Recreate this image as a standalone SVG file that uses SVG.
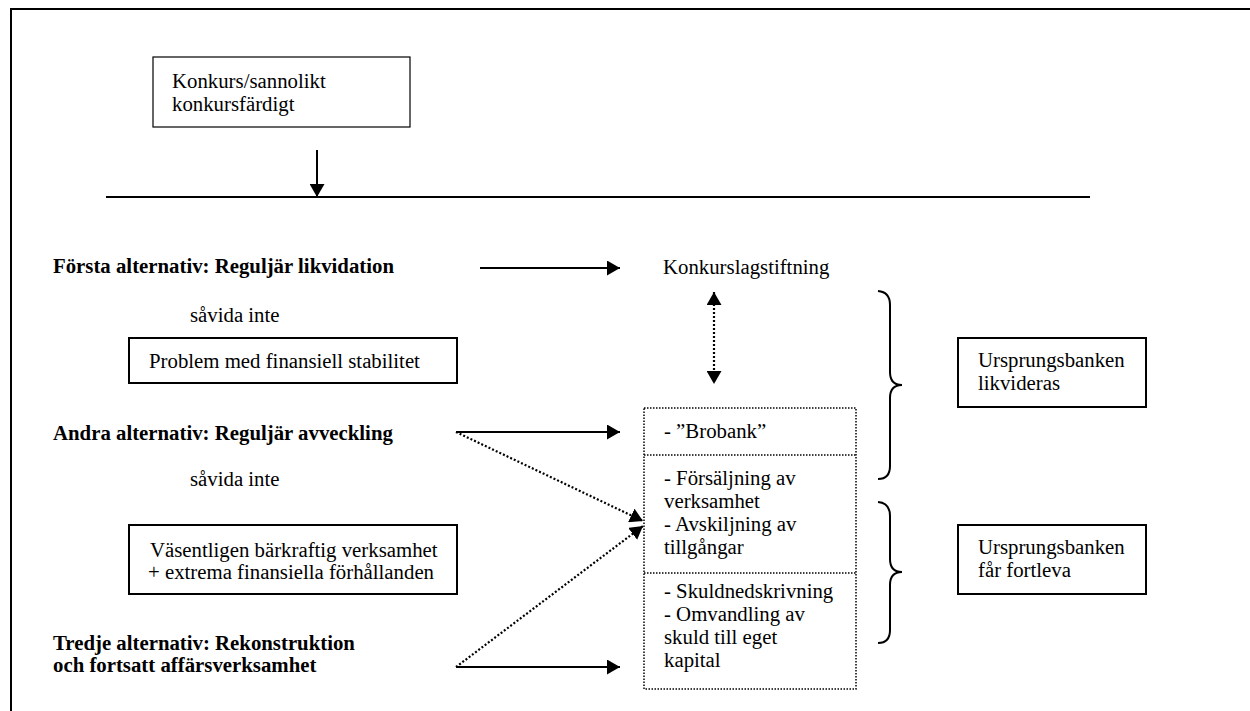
<svg xmlns="http://www.w3.org/2000/svg" width="1250" height="711" viewBox="0 0 1250 711">
<style>
text{font-family:"Liberation Serif","Times New Roman",serif;font-size:20.8px;fill:#000}
.b{font-weight:bold}
.box{fill:#fff;stroke:#000;stroke-width:2}
.thin{fill:#fff;stroke:#000;stroke-width:1.2}
.dbox{fill:none;stroke:#000;stroke-width:1.5;stroke-dasharray:1.5 1.5}
.solid{fill:none;stroke:#000;stroke-width:2}
.dot{fill:none;stroke:#000;stroke-width:2.2;stroke-dasharray:2 2}
.brace{fill:none;stroke:#000;stroke-width:2}
</style>
<defs>
<marker id="ah" markerUnits="userSpaceOnUse" markerWidth="14" markerHeight="15" refX="13" refY="7.5" orient="auto-start-reverse" viewBox="0 0 14 15">
<path d="M0,0 L13,7.5 L0,15 z" fill="#000"/>
</marker>
</defs>
<rect width="1250" height="711" fill="#fff"/>
<path d="M11,711 V9 H1250" class="solid"/>
<line x1="106" y1="197" x2="1090" y2="197" class="solid"/>

<g id="konkurs">
<rect x="153" y="57" width="257" height="70" class="thin"/>
<text x="172" y="88">Konkurs/sannolikt</text>
<text x="172" y="111">konkursfärdigt</text>
</g>

<g id="alt1">
<text x="53" y="273" class="b">Första alternativ: Reguljär likvidation</text>
</g>
<g id="savida1"><text x="190" y="322">såvida inte</text></g>
<g id="problem">
<rect x="129" y="338" width="328" height="45" class="box"/>
<text x="149" y="368">Problem med finansiell stabilitet</text>
</g>
<g id="alt2">
<text x="53" y="440" class="b">Andra alternativ: Reguljär avveckling</text>
</g>
<g id="savida2"><text x="190" y="486">såvida inte</text></g>
<g id="vasentligen">
<rect x="129" y="525" width="328" height="69" class="box"/>
<text x="150" y="557">Väsentligen bärkraftig verksamhet</text>
<text x="148" y="579">+ extrema finansiella förhållanden</text>
</g>
<g id="alt3">
<text x="53" y="650" class="b">Tredje alternativ: Rekonstruktion</text>
<text x="53" y="672" class="b">och fortsatt affärsverksamhet</text>
</g>

<g id="konkurslag"><text x="663" y="274">Konkurslagstiftning</text></g>

<g id="atgarder">
<rect x="644" y="408" width="212" height="281" class="dbox"/>
<line x1="644" y1="455" x2="856" y2="455" class="dbox"/>
<line x1="644" y1="573" x2="856" y2="573" class="dbox"/>
<text x="664" y="438">- ”Brobank”</text>
<text x="664" y="485">- Försäljning av</text>
<text x="664" y="508">verksamhet</text>
<text x="664" y="531">- Avskiljning av</text>
<text x="664" y="554">tillgångar</text>
<text x="664" y="598">- Skuldnedskrivning</text>
<text x="664" y="621">- Omvandling av</text>
<text x="664" y="644">skuld till eget</text>
<text x="664" y="667">kapital</text>
</g>

<g id="likvideras">
<rect x="958" y="338" width="188" height="69" class="box"/>
<text x="978" y="367">Ursprungsbanken</text>
<text x="978" y="390">likvideras</text>
</g>
<g id="fortleva">
<rect x="958" y="525" width="188" height="69" class="box"/>
<text x="978" y="554">Ursprungsbanken</text>
<text x="978" y="577">får fortleva</text>
</g>

<g id="braces">
<path class="brace" d="M878,291 Q890,292 890,305 V372 Q890,385 902,385 Q890,385 890,398 V466 Q890,479 878,479"/>
<path class="brace" d="M878,502 Q890,503 890,516 V559 Q890,572 902,572 Q890,572 890,585 V630 Q890,643 878,643"/>
</g>

<g id="connectors">
<line x1="317" y1="150" x2="317" y2="197" class="solid" marker-end="url(#ah)"/>
<line x1="480" y1="268" x2="620" y2="268" class="solid" marker-end="url(#ah)"/>
<line x1="714" y1="292" x2="714" y2="384" class="dot" marker-start="url(#ah)" marker-end="url(#ah)"/>
<line x1="456" y1="432" x2="620" y2="432" class="solid" marker-end="url(#ah)"/>
<line x1="456" y1="432" x2="643" y2="521" class="dot" marker-end="url(#ah)"/>
<line x1="456" y1="667" x2="643" y2="526" class="dot" marker-end="url(#ah)"/>
<line x1="456" y1="667" x2="620" y2="667" class="solid" marker-end="url(#ah)"/>
</g>
</svg>
